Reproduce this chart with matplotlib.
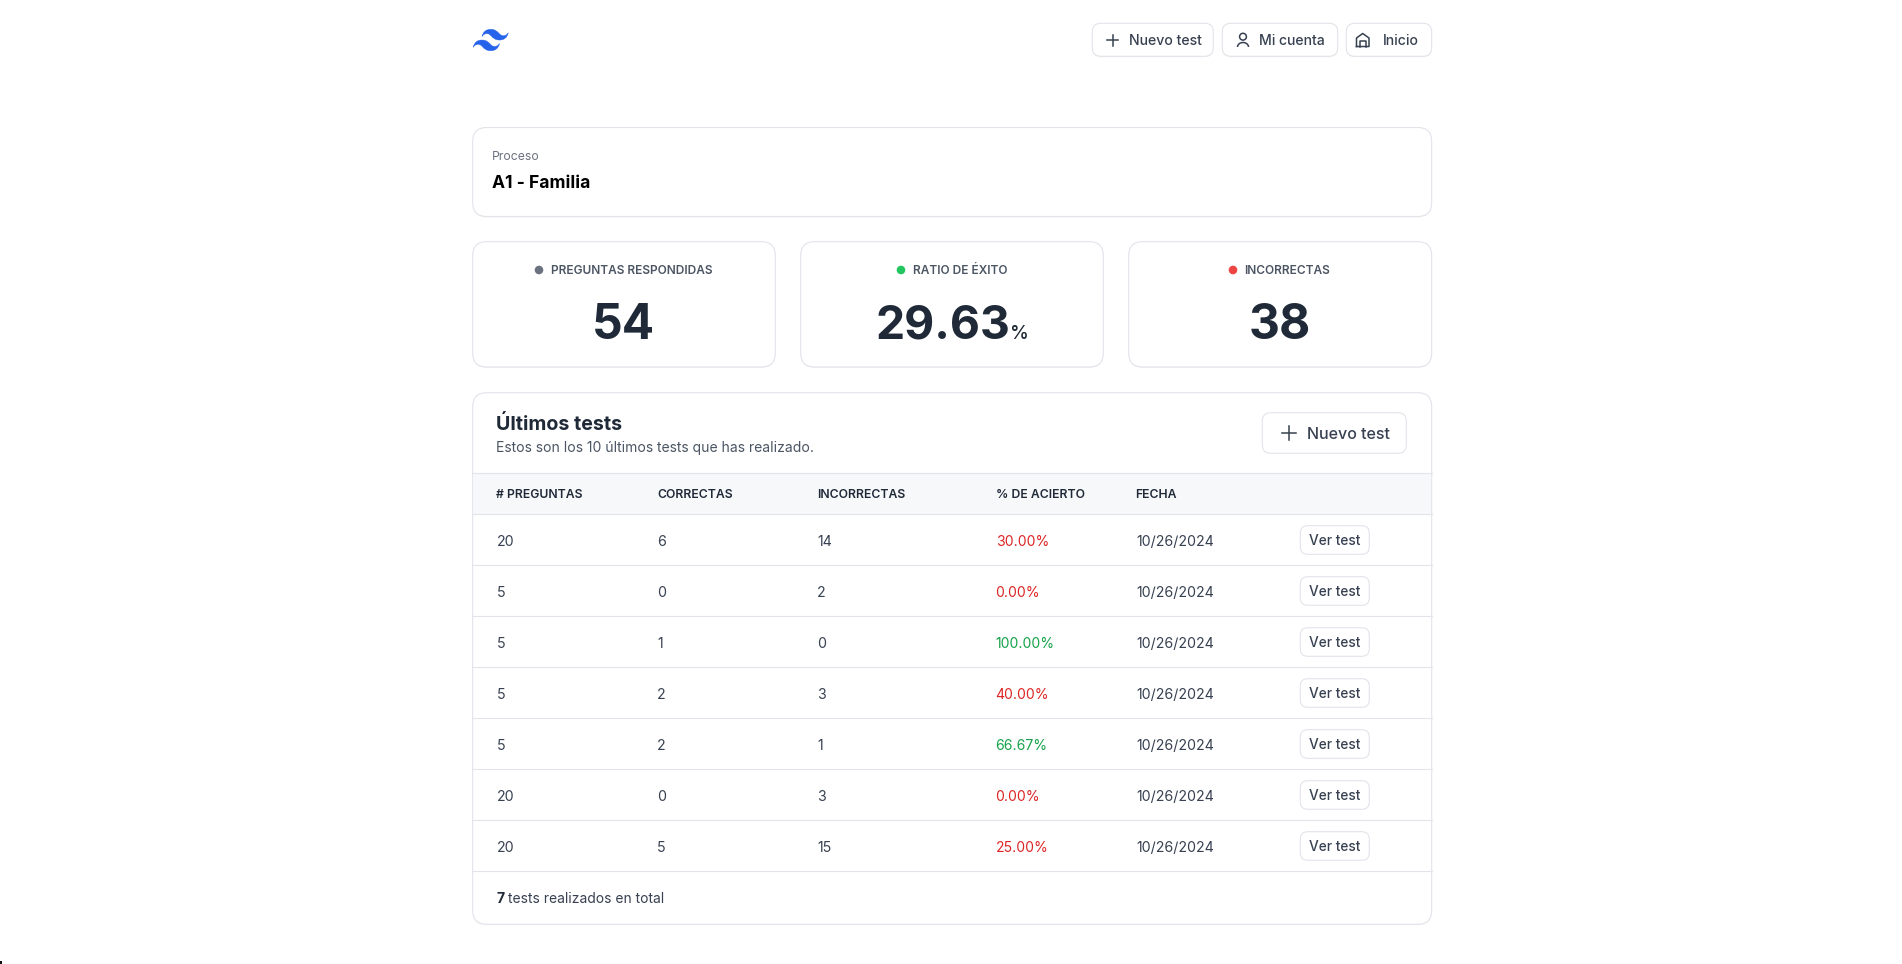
import re

import matplotlib

matplotlib.use("Agg")
import matplotlib.pyplot as plt
from matplotlib.patches import Circle, FancyBboxPatch, PathPatch, Rectangle, Arc
from matplotlib.path import Path

plt.rcParams["font.family"] = ["Inter", "DejaVu Sans"]

# table data
headers = ["# PREGUNTAS", "CORRECTAS", "INCORRECTAS", "% DE ACIERTO", "FECHA"]
preguntas = [20, 5, 5, 5, 5, 20, 20]
correctas = [6, 0, 1, 2, 2, 0, 5]
incorrectas = [14, 2, 0, 3, 1, 3, 15]
aciertos = [30.00, 0.00, 100.00, 40.00, 66.67, 0.00, 25.00]
fechas = ["10/26/2024"] * 7

stat_labels = ["PREGUNTAS RESPONDIDAS", "RATIO DE ÉXITO", "INCORRECTAS"]
stat_values = ["54", "29.63", "38"]
stat_colors = ["#6b7280", "#22c55e", "#ef4444"]

DARK = "#1f2937"
BODY = "#374151"
BORDER = "#e2e4ea"
PX = 72 / 100  # px to pt at dpi 100

LOGO = ("M12.001,4.8c-3.2,0-5.2,1.6-6,4.8c1.2-1.6,2.6-2.2,4.2-1.8c0.913,0.228,1.565,0.89,2.288,1.624"
        "C13.666,10.618,15.027,12,18.001,12c3.2,0,5.2-1.6,6-4.8c-1.2,1.6-2.6,2.2-4.2,1.8"
        "c-0.913-0.228-1.565-0.89-2.288-1.624C16.337,6.182,14.976,4.8,12.001,4.8z"
        "M6.001,12c-3.2,0-5.2,1.6-6,4.8c1.2-1.6,2.6-2.2,4.2-1.8c0.913,0.228,1.565,0.89,2.288,1.624"
        "c1.177,1.194,2.538,2.576,5.512,2.576c3.2,0,5.2-1.6,6-4.8c-1.2,1.6-2.6,2.2-4.2,1.8"
        "c-0.913-0.228-1.565-0.89-2.288-1.624C10.337,13.382,8.976,12,6.001,12z")


def logo_path(x0, y0, sx, sy):
    verts, codes = [], []
    cur = (0, 0)
    for cmd, args in re.findall(r"([MCcz])([^MCcz]*)", LOGO):
        nums = [float(n) for n in re.findall(r"-?\d*\.?\d+", args)]
        if cmd == "M":
            cur = (nums[0], nums[1])
            start = cur
            verts.append(cur)
            codes.append(Path.MOVETO)
        elif cmd == "z":
            verts.append(start)
            codes.append(Path.CLOSEPOLY)
            cur = start
        else:
            for i in range(0, len(nums), 6):
                pts = nums[i:i + 6]
                for j in range(0, 6, 2):
                    if cmd == "c":
                        verts.append((cur[0] + pts[j], cur[1] + pts[j + 1]))
                    else:
                        verts.append((pts[j], pts[j + 1]))
                    codes.append(Path.CURVE4)
                cur = verts[-1]
    verts = [(x0 + (x - 0) * sx, y0 + (y - 4.8) * sy) for x, y in verts]
    return Path(verts, codes)


fig = plt.figure(figsize=(19.02, 9.64), dpi=100)
ax = fig.add_axes([0, 0, 1, 1])
ax.set_xlim(0, 1902)
ax.set_ylim(964, 0)
ax.axis("off")


def card(x0, y0, x1, y1, r):
    # thin shadow below, then the border
    ax.add_patch(FancyBboxPatch((x0, y0 + 1), x1 - x0, y1 - y0, boxstyle=f"round,pad=0,rounding_size={r}",
                                fc="#000000", ec="none", alpha=0.04, zorder=1))
    ax.add_patch(FancyBboxPatch((x0, y0), x1 - x0, y1 - y0, boxstyle=f"round,pad=0,rounding_size={r}",
                                fc="white", ec=BORDER, lw=0.8, zorder=2))


def label(x, y, s, px, color=BODY, weight="normal", ha="left"):
    return ax.text(x, y, s, fontsize=px * PX, color=color, fontweight=weight, ha=ha, va="baseline", zorder=6)


def plus(cx, cy, half):
    ax.plot([cx - half, cx + half], [cy, cy], color=BODY, lw=1.1, zorder=6)
    ax.plot([cx, cx], [cy - half, cy + half], color=BODY, lw=1.1, zorder=6)


# logo
ax.add_patch(PathPatch(logo_path(473.2, 29.3, 1.46, 1.49), fc="#2563eb", ec="#2563eb", lw=0.3, zorder=6))

# top buttons
card(1092.3, 23.3, 1213.3, 56.3, 8.5)
plus(1112.7, 40, 5.5)
label(1128.6, 45, "Nuevo test", 14.1, BODY, "medium")
card(1222.3, 23.3, 1337.7, 56.3, 8.5)
ax.add_patch(Circle((1243, 36.7), 3.4, fc="none", ec=BODY, lw=1.1, zorder=6))
ax.add_patch(Arc((1243, 47), 11, 9, theta1=180, theta2=360, ec=BODY, lw=1.1, zorder=6))
label(1259, 45, "Mi cuenta", 14, BODY, "medium")
card(1346.3, 23.3, 1431.7, 56.3, 8.5)
ax.plot([1356.5, 1356.5, 1362.7, 1369, 1369, 1356.5], [46.5, 38, 33.5, 38, 46.5, 46.5], color=BODY, lw=1.1, zorder=6)
ax.plot([1360, 1360, 1365.5, 1365.5], [46.5, 41, 41, 46.5], color=BODY, lw=1.1, zorder=6)
label(1382.8, 45, "Inicio", 14.1, BODY, "medium")

# process card
card(472.7, 127.5, 1431.7, 216.5, 14)
label(492.3, 160, "Proceso", 12.2, "#6b7280")
label(492.3, 188.3, "A1 - Familia", 17.5, "#000000", "bold")

# stat cards
stat_x = [(472.7, 775.3), (800.7, 1103.3), (1128.7, 1431.7)]
stat_dot = [539, 901, 1233]
stat_text = [550.6, 912.6, 1244.6]
for i in range(3):
    card(stat_x[i][0], 241.7, stat_x[i][1], 367, 14)
    ax.add_patch(Circle((stat_dot[i], 270), 4.3, fc=stat_colors[i], ec="none", zorder=6))
    label(stat_text[i], 274.3, stat_labels[i], 11.9, "#4b5563", "semibold")
label(623.6, 338.7, stat_values[0], 48, DARK, "bold", "center")
label(875, 338.7, stat_values[1], 46.3, DARK, "bold")
label(1010.5, 338.7, "%", 19, DARK, "medium")
label(1279.3, 338.7, stat_values[2], 48, DARK, "bold", "center")

# main card
card(472.7, 392.7, 1431.7, 924.3, 14)
label(496.3, 430, "Últimos tests", 19.7, DARK, "bold")
label(496.3, 452.3, "Estos son los 10 últimos tests que has realizado.", 13.95, "#4b5563")
card(1262.3, 412.7, 1406.3, 453.3, 8.5)
plus(1289, 433, 7)
label(1306.9, 439.3, "Nuevo test", 16, BODY, "medium")

ax.add_patch(Rectangle((473.2, 473.3), 958, 41, fc="#f7f8fa", ec="none", zorder=3))
ax.plot([472.7, 1431.7], [473.3, 473.3], color=BORDER, lw=0.8, zorder=4)
ax.plot([472.7, 1431.7], [514.3, 514.3], color=BORDER, lw=0.8, zorder=4)

col_x = [496.3, 656.9, 817.3, 995.6, 1135.3]
for x, h in zip(col_x, headers):
    label(x, 498.3, h, 12.2, DARK, "semibold")

row_h = 51.0
for i in range(len(preguntas)):
    base = 546 + i * row_h
    label(col_x[0] + 1, base, str(preguntas[i]), 14.2)
    label(col_x[1], base, str(correctas[i]), 14.2)
    label(col_x[2], base, str(incorrectas[i]), 14.2)
    pct_color = "#16a34a" if aciertos[i] > 50 else "#dc2626"
    label(col_x[3], base, f"{aciertos[i]:.2f}%", 14, pct_color)
    label(col_x[4] + 0.7, base, fechas[i], 14.2)
    card(1300.3, base - 20.3, 1369.3, base + 8.3, 7.5)
    label(1334.8, base - 1, "Ver test", 13.7, BODY, "medium", "center")
    line_y = 514.3 + (i + 1) * row_h
    ax.plot([472.7, 1431.7], [line_y, line_y], color=BORDER, lw=0.8, zorder=4)

# footer
label(496.3, 903.3, str(len(preguntas)), 14, DARK, "bold")
label(508.3, 903.3, "tests realizados en total", 13.85, BODY)

# bit of the mouse cursor left in the screenshot's corner
ax.add_patch(Rectangle((0, 961), 2, 3, fc="#111111", ec="none", zorder=6))

fig.savefig("out.png", dpi=100)
plt.close(fig)
